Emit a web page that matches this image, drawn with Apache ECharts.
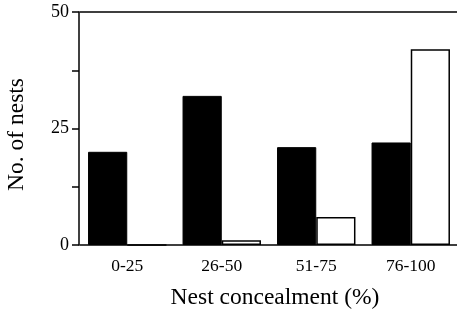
<!DOCTYPE html>
<html><head><meta charset="utf-8">
<script src="https://cdn.jsdelivr.net/npm/echarts@6/dist/echarts.min.js"></script>
<style>html,body{margin:0;padding:0;background:#fff}#c{width:457px;height:313px}</style>
</head><body><div id="c"></div>
<script>
var categories = ['0-25', '26-50', '51-75', '76-100'];
var blackValues = [20, 32, 21, 22];
var whiteValues = [0, 1, 6, 42];
var yTickLabels = ['0', '25', '50'];

var font = 'Liberation Serif';
var chart = echarts.init(document.getElementById('c'), null, {renderer: 'canvas'});
chart.setOption({
  animation: false,
  grid: {left: 80, right: -1, top: 12, bottom: 68, containLabel: false, outerBoundsMode: 'none'},
  xAxis: [{
    type: 'category', data: categories,
    name: 'Nest concealment (%)', nameLocation: 'middle', nameGap: 41,
    nameTextStyle: {fontFamily: font, fontSize: 23.5, color: '#000', padding: [0, 0, 0, 12]},
    axisLine: {lineStyle: {color: '#000', width: 1.5}},
    axisTick: {show: false},
    axisLabel: {fontFamily: font, fontSize: 17.5, color: '#000', margin: 12}
  }, {
    type: 'category', data: categories, position: 'top',
    axisLine: {lineStyle: {color: '#000', width: 1.5}},
    axisTick: {show: false}, axisLabel: {show: false}
  }],
  yAxis: {
    type: 'value', min: 0, max: 50, interval: 12.5, offset: 1,
    name: 'No. of nests', nameLocation: 'middle', nameGap: 50,
    nameTextStyle: {fontFamily: font, fontSize: 23.5, color: '#000', padding: [0, 12, 0, 0]},
    axisLine: {show: true, lineStyle: {color: '#000', width: 1.5}},
    axisTick: {show: true, length: 7, lineStyle: {color: '#000', width: 1.5}},
    splitLine: {show: false},
    axisLabel: {fontFamily: font, fontSize: 18, color: '#000', margin: 10,
      formatter: function (v) { return yTickLabels.indexOf(String(v)) >= 0 ? String(v) : ''; }}
  },
  series: [{
    type: 'bar', data: blackValues, barGap: '0%', barCategoryGap: '17%',
    itemStyle: {color: '#000', borderColor: '#000', borderWidth: 1}
  }, {
    type: 'bar', data: whiteValues, barGap: '0%', barCategoryGap: '17%',
    itemStyle: {color: '#fff', borderColor: '#000', borderWidth: 1.5}
  }]
});
</script></body></html>
